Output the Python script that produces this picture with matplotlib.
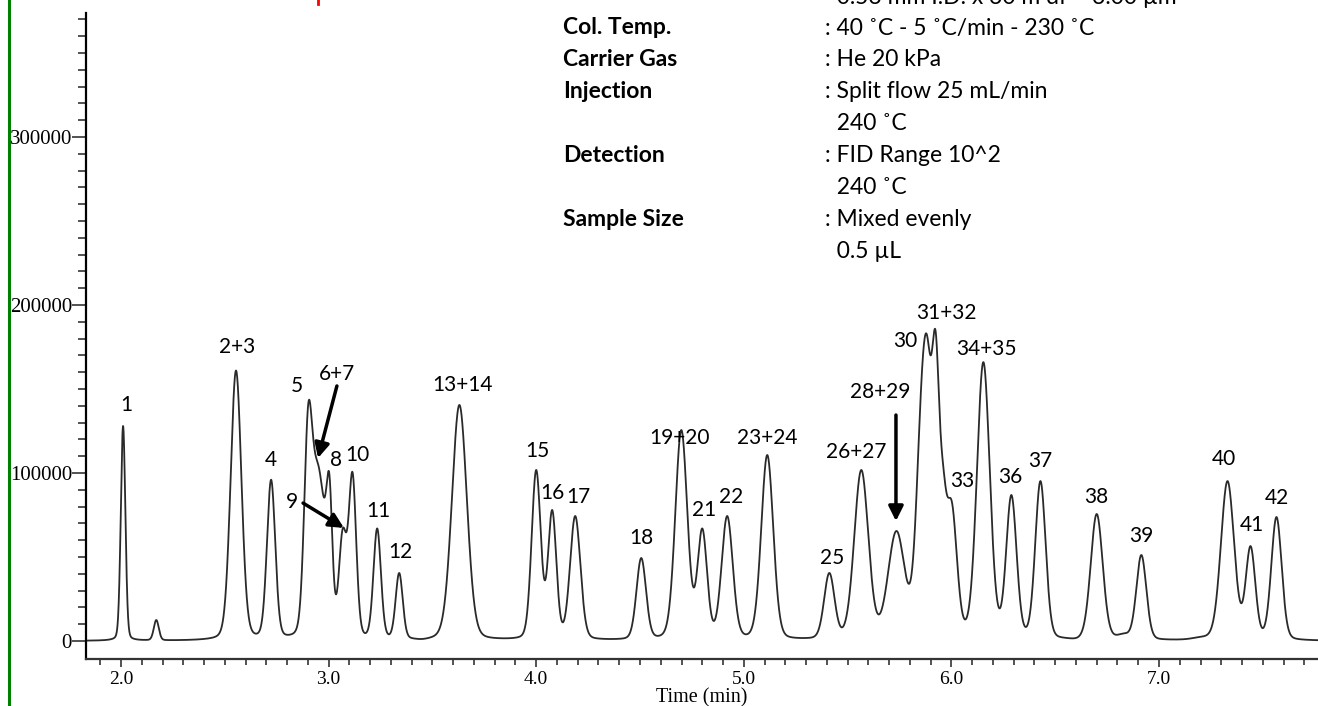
import numpy as np
import matplotlib
matplotlib.use("Agg")
import matplotlib.pyplot as plt
from matplotlib.ticker import MultipleLocator, FixedLocator
from matplotlib.lines import Line2D

# peak table: retention time (min), apex signal, width (sigma, min)
peak_time = np.array([2.010, 2.170, 2.554, 2.723, 2.901, 2.950, 3.004, 3.068, 3.115, 3.234, 3.340, 3.450,
                      3.630, 4.000, 4.077, 4.188, 4.506, 4.699, 4.800, 4.920, 5.113, 5.412, 5.566, 5.735,
                      5.862, 5.886, 5.924, 5.960, 6.000, 6.154, 6.289, 6.429, 6.600, 6.700, 6.830, 6.915,
                      7.200, 7.330, 7.441, 7.566])
peak_height = np.array([128000, 12500, 161000, 96000, 140000, 105000, 99000, 67000, 100600, 67000, 40500, 1200,
                        140500, 101800, 78000, 74400, 49400, 125600, 67000, 74400, 110700, 40500, 101800, 65500,
                        168000, 179800, 184500, 105000, 84000, 166000, 86900, 95200, 1800, 75600, 4500, 51200,
                        2500, 95200, 56500, 73800])
peak_width = np.array([0.011, 0.012, 0.026, 0.020, 0.019, 0.035, 0.014, 0.018, 0.018, 0.018, 0.017, 0.030,
                       0.036, 0.022, 0.020, 0.025, 0.023, 0.029, 0.023, 0.027, 0.029, 0.025, 0.034, 0.040,
                       0.028, 0.017, 0.019, 0.016, 0.026, 0.031, 0.025, 0.025, 0.030, 0.029, 0.030, 0.024,
                       0.040, 0.032, 0.023, 0.025])
lorentz_share = 0.15  # pointed apex / wider foot of the detector peaks

# peak labels: text, time, signal where the label sits
label_text = ["1", "2+3", "4", "5", "6+7", "8", "10", "9", "11", "12", "13+14", "15", "16", "17", "18",
              "19+20", "21", "22", "23+24", "25", "26+27", "28+29", "30", "31+32", "33", "34+35",
              "36", "37", "38", "39", "40", "41", "42"]
label_t = [2.024, 2.559, 2.723, 2.848, 3.040, 3.036, 3.137, 2.824, 3.238, 3.344, 3.647, 4.004, 4.076, 4.201,
           4.505, 4.688, 4.808, 4.938, 5.112, 5.425, 5.540, 5.656, 5.776, 5.974, 6.051, 6.171, 6.282,
           6.427, 6.697, 6.913, 7.313, 7.448, 7.568]
label_y = [140500, 175000, 107700, 151800, 158900, 107700, 110700, 82700, 77400, 53000, 152400, 113100,
           88100, 85700, 61300, 120800, 78000, 85700, 120800, 49400, 112500, 148200, 178600, 195200,
           95200, 173800, 97600, 107100, 85700, 62500, 108300, 69000, 85100]

# arrows (tail -> head) for 6+7, 9 and 28+29
arrow_from = [(3.040, 151800), (2.877, 82100), (5.733, 134500)]
arrow_to = [(2.949, 108900), (3.074, 67300), (5.733, 71400)]

# conditions block
cond_names = ["Col. Temp.", "Carrier Gas", "Injection", "", "Detection", "", "Sample Size", ""]
cond_values = [": 40 ˚C - 5 ˚C/min - 230 ˚C", ": He 20 kPa", ": Split flow 25 mL/min", "  240 ˚C",
               ": FID Range 10^2", "  240 ˚C", ": Mixed evenly", "  0.5 µL"]
top_line = "  0.53 mm I.D. x 30 m df = 3.00 µm"


def profile(x, c, s):
    g = np.exp(-(x - c) ** 2 / (2 * s ** 2))
    hw = s * np.sqrt(2 * np.log(2))
    lo = 1 / (1 + ((x - c) / hw) ** 2)
    return (1 - lorentz_share) * g + lorentz_share * lo


W, H = 1318, 706
plt.rcParams["font.family"] = ["Liberation Serif", "DejaVu Serif"]
fig = plt.figure(figsize=(W / 100, H / 100), dpi=100)
ax = fig.add_axes([86 / W, (H - 659) / H, 1 - 86 / W, (659 - 13) / H])

# amplitudes so the trace passes through the apex values read above
G = profile(peak_time[:, None], peak_time[None, :], peak_width[None, :])
amp = np.linalg.solve(G, peak_height)
t = np.linspace(1.83, 7.77, 8000)
signal = np.zeros_like(t)
for a, c, s in zip(amp, peak_time, peak_width):
    signal += a * profile(t, c, s)

ax.plot(t, signal, color="#2a2a2a", lw=1.3)

ax.set_xlim(1.8314, 7.766)
ax.set_ylim(-10714, 373810)

for side in ["top", "right"]:
    ax.spines[side].set_visible(False)
ax.spines["left"].set_linewidth(1.6)
ax.spines["bottom"].set_linewidth(1.6)
ax.spines["bottom"].set_color("#333333")

ax.yaxis.set_major_locator(FixedLocator([0, 100000, 200000, 300000]))
ax.set_yticklabels(["0", "100000", "200000", "300000"])
ax.yaxis.set_minor_locator(FixedLocator([v for v in range(10000, 380000, 10000) if v % 100000 != 0]))
ax.xaxis.set_major_locator(FixedLocator([2, 3, 4, 5, 6, 7]))
ax.set_xticklabels(["2.0", "3.0", "4.0", "5.0", "6.0", "7.0"])
ax.xaxis.set_minor_locator(MultipleLocator(0.1))

ax.tick_params(axis="y", which="major", length=10, width=1.3, pad=0, labelsize=15, color="#444444")
ax.tick_params(axis="y", which="minor", length=5.5, width=1.3, color="#444444")
ax.tick_params(axis="x", which="major", length=6, width=1.3, pad=3, labelsize=14, color="#444444")
ax.tick_params(axis="x", which="minor", length=4, width=1.3, color="#444444")
ax.set_xlabel("Time (min)", fontsize=14.5, labelpad=0)

lbl_font = ["Lato", "DejaVu Sans"]
for s, x, y in zip(label_text, label_t, label_y):
    ax.text(x, y, s, ha="center", va="center", fontsize=15, family=lbl_font)

for p0, p1 in zip(arrow_from, arrow_to):
    ax.annotate("", xy=p1, xytext=p0,
                arrowprops=dict(arrowstyle="-|>", color="black", lw=2.5, mutation_scale=22,
                                shrinkA=0, shrinkB=0))

# run conditions text
for i, (n, v) in enumerate(zip(cond_names, cond_values)):
    yy = 1 - (28 + i * 31.9) / H
    if n:
        fig.text(563 / W, yy, n, ha="left", va="center", fontsize=16.5, fontweight="bold", family=lbl_font)
    fig.text(825 / W, yy, v, ha="left", va="center", fontsize=16.5, family=lbl_font)
fig.text(825 / W, 1 + 3 / H, top_line, ha="left", va="center", fontsize=16.5, family=lbl_font)

# green page rule on the left and the red arrow tip at the top edge
fig.add_artist(Line2D([9 / W, 9 / W], [0, 1], transform=fig.transFigure, color="#008000", lw=2.2))
fig.add_artist(Line2D([318 / W, 318 / W], [1, 1 - 4 / H], transform=fig.transFigure, color="red", lw=2))

fig.savefig("out.png", dpi=100)
